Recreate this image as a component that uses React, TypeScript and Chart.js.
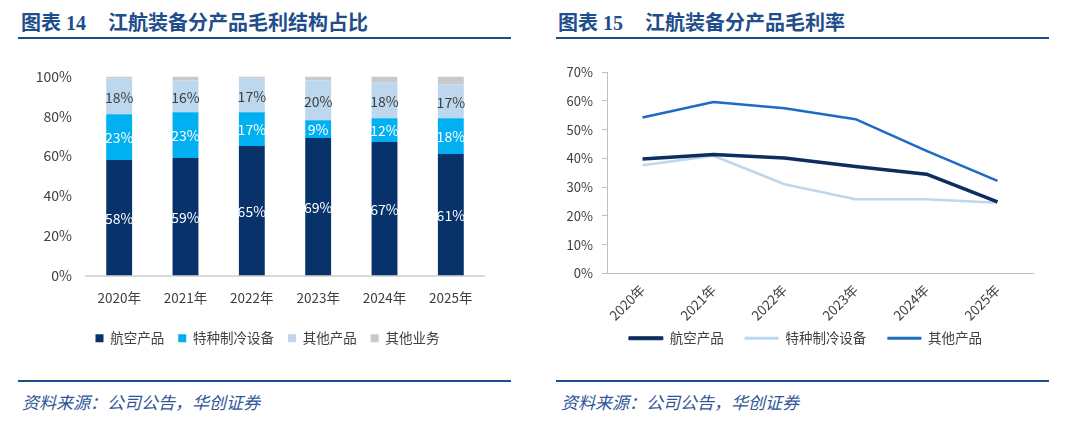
import { useEffect, useRef } from 'react'
import { Chart, registerables } from 'chart.js'
Chart.register(...registerables)

const FONT = '"Microsoft YaHei", "Noto Sans CJK SC", sans-serif'
Chart.defaults.font.family = FONT

const YEARS = ['2020年', '2021年', '2022年', '2023年', '2024年', '2025年']

// 图表14 毛利结构占比 (%)
const SHARE_SERIES = ['航空产品', '特种制冷设备', '其他产品', '其他业务']
const AVIATION_SHARE = [58, 59, 65, 69, 67, 61]
const COOLING_SHARE = [23, 23, 17, 9, 12, 18]
const OTHER_PRODUCT_SHARE = [18, 16, 17, 20, 18, 17]
const OTHER_BUSINESS_SHARE = [1, 2, 1, 2, 3, 4]

// 图表15 毛利率 (%)
const MARGIN_SERIES = ['航空产品', '特种制冷设备', '其他产品']
const AVIATION_MARGIN = [39.8, 41.3, 40.1, 37.2, 34.5, 24.9]
const COOLING_MARGIN = [37.6, 40.9, 31.0, 25.8, 25.8, 24.6]
const OTHER_PRODUCT_MARGIN = [54.2, 59.6, 57.4, 53.6, 42.6, 32.2]

const SHARE_COLORS = ['#07326A', '#00B0F0', '#BDD7EE', '#C9C9C9']
const SHARE_LABEL_COLORS = ['#FFFFFF', '#FFFFFF', '#404040', null]
const MARGIN_COLORS = ['#0C2D5E', '#BDD7EE', '#1C6BC4']
const MARGIN_WIDTHS = [3.5, 2.5, 2.5]

const TITLE_BLUE = '#1F4E8C'
const TEXT = '#404040'

// 柱内百分比标签
const barLabels = {
  id: 'barLabels',
  afterDatasetsDraw(chart: any) {
    const { ctx } = chart
    ctx.save()
    ctx.font = `14px ${FONT}`
    ctx.textAlign = 'center'
    ctx.textBaseline = 'middle'
    chart.data.datasets.forEach((ds: any, i: number) => {
      const color = SHARE_LABEL_COLORS[i]
      if (!color) return
      ctx.fillStyle = color
      chart.getDatasetMeta(i).data.forEach((bar: any, j: number) => {
        const { x, y, base } = bar.getProps(['x', 'y', 'base'], true)
        ctx.fillText(`${ds.data[j]}%`, x, (y + base) / 2 + 1)
      })
    })
    ctx.restore()
  },
}

// 图例位置微调
const legendShift = {
  id: 'legendShift',
  afterLayout(chart: any, _args: any, opts: any) {
    const lg = chart.legend
    if (!lg) return
    lg.left += opts.dx || 0
    lg.right += opts.dx || 0
    lg.top += opts.dy || 0
    lg.bottom += opts.dy || 0
  },
}

function ShareChart() {
  const ref = useRef<HTMLCanvasElement>(null)
  useEffect(() => {
    if (!ref.current) return
    const shares = [AVIATION_SHARE, COOLING_SHARE, OTHER_PRODUCT_SHARE, OTHER_BUSINESS_SHARE]
    const chart = new Chart(ref.current, {
      type: 'bar',
      data: {
        labels: YEARS,
        datasets: SHARE_SERIES.map((name, i) => ({
          label: name,
          data: shares[i],
          backgroundColor: SHARE_COLORS[i],
          categoryPercentage: 1,
          barPercentage: 0.39,
        })),
      },
      options: {
        animation: false,
        responsive: true,
        maintainAspectRatio: false,
        layout: { padding: { top: 5, left: 0, right: 26, bottom: 4 } },
        scales: {
          x: {
            stacked: true,
            grid: { display: false, drawTicks: false },
            border: { display: true, color: '#D9D9D9', width: 2 },
            ticks: { color: TEXT, font: { size: 13.5 }, padding: 14 },
            afterFit: (s: any) => { s.height = 37 },
          },
          y: {
            stacked: true,
            min: 0,
            max: 100,
            grid: { display: false, drawTicks: false },
            border: { display: false },
            ticks: { stepSize: 20, padding: 14, color: TEXT, font: { size: 14 }, callback: (v: any) => `${v}%` },
            afterFit: (s: any) => { s.width = 66 },
          },
        },
        plugins: {
          legend: {
            position: 'bottom',
            labels: { boxWidth: 8, boxHeight: 8, padding: 14, color: TEXT, font: { size: 13.5 } },
          },
          legendShift: { dx: 15.5, dy: 5 },
          tooltip: { enabled: false },
        } as any,
      },
      plugins: [barLabels, legendShift],
    })
    return () => chart.destroy()
  }, [])
  return <canvas ref={ref} />
}

function MarginChart() {
  const ref = useRef<HTMLCanvasElement>(null)
  useEffect(() => {
    if (!ref.current) return
    const margins = [AVIATION_MARGIN, COOLING_MARGIN, OTHER_PRODUCT_MARGIN]
    const chart = new Chart(ref.current, {
      type: 'line',
      data: {
        labels: YEARS,
        datasets: MARGIN_SERIES.map((name, i) => ({
          label: name,
          data: margins[i],
          borderColor: MARGIN_COLORS[i],
          backgroundColor: MARGIN_COLORS[i],
          borderWidth: MARGIN_WIDTHS[i],
          pointRadius: 0,
          tension: 0,
          borderJoinStyle: 'round' as const,
        })),
      },
      options: {
        animation: false,
        responsive: true,
        maintainAspectRatio: false,
        layout: { padding: { top: 17, left: 0, right: 12, bottom: 0 } },
        scales: {
          x: {
            offset: true,
            grid: { display: false, drawTicks: false },
            border: { display: true, color: '#BFBFBF', width: 1 },
            ticks: { color: TEXT, font: { size: 13.5 }, padding: 8, minRotation: 45, maxRotation: 45 },
            afterFit: (s: any) => { s.height = 56 },
          },
          y: {
            min: 0,
            max: 70,
            grid: { display: true, drawOnChartArea: false, drawTicks: true, tickLength: 5, tickColor: '#BFBFBF' },
            border: { display: true, color: '#BFBFBF', width: 1 },
            ticks: { stepSize: 10, padding: 9, color: TEXT, font: { size: 13 }, callback: (v: any) => `${v}%` },
            afterFit: (s: any) => { s.width = 62 },
          },
        },
        plugins: {
          legend: {
            position: 'bottom',
            labels: {
              boxWidth: 34,
              boxHeight: 3,
              padding: 21,
              color: TEXT,
              font: { size: 13.5 },
              generateLabels: (c: any) =>
                Chart.defaults.plugins.legend.labels.generateLabels(c).map((l: any, i: number) => ({
                  ...l,
                  fillStyle: MARGIN_COLORS[i],
                  strokeStyle: MARGIN_COLORS[i],
                  lineWidth: i === 0 ? 1 : 0,
                })),
            },
          },
          legendShift: { dx: 16.5, dy: -19 },
          tooltip: { enabled: false },
        } as any,
      },
      plugins: [legendShift],
    })
    return () => chart.destroy()
  }, [])
  return <canvas ref={ref} />
}

const titleStyle = {
  position: 'absolute' as const,
  top: 11,
  height: 24,
  lineHeight: '24px',
  fontSize: 20,
  fontWeight: 700,
  color: TITLE_BLUE,
  fontFamily: '"Liberation Serif", "Noto Sans CJK SC", serif',
  whiteSpace: 'nowrap' as const,
}
const ruleStyle = { position: 'absolute' as const, height: 2, background: TITLE_BLUE }
const sourceStyle = {
  position: 'absolute' as const,
  top: 391,
  height: 22,
  lineHeight: '22px',
  fontSize: 17,
  fontStyle: 'italic',
  color: '#2F5597',
  fontFamily: '"Noto Sans CJK SC", serif',
  whiteSpace: 'nowrap' as const,
}

export default function App() {
  useEffect(() => { document.body.style.margin = '0' }, [])
  return (
    <div style={{ position: 'relative', width: 1080, height: 422, background: '#fff', overflow: 'hidden' }}>
      {/* 图表14 */}
      <div style={{ ...titleStyle, left: 21 }}>
        图表 14<span style={{ marginLeft: 22 }}>江航装备分产品毛利结构占比</span>
      </div>
      <div style={{ ...ruleStyle, left: 18, top: 37, width: 493 }} />
      <div style={{ position: 'absolute', left: 20, top: 54, width: 490, height: 300 }}>
        <ShareChart />
      </div>
      <div style={{ ...ruleStyle, left: 18, top: 380, width: 493 }} />
      <div style={{ ...sourceStyle, left: 22 }}>资料来源：公司公告，华创证券</div>

      {/* 图表15 */}
      <div style={{ ...titleStyle, left: 558 }}>
        图表 15<span style={{ marginLeft: 22 }}>江航装备分产品毛利率</span>
      </div>
      <div style={{ ...ruleStyle, left: 556, top: 37, width: 493 }} />
      <div style={{ position: 'absolute', left: 545, top: 55, width: 500, height: 319 }}>
        <MarginChart />
      </div>
      <div style={{ ...ruleStyle, left: 556, top: 380, width: 493 }} />
      <div style={{ ...sourceStyle, left: 561 }}>资料来源：公司公告，华创证券</div>
    </div>
  )
}
